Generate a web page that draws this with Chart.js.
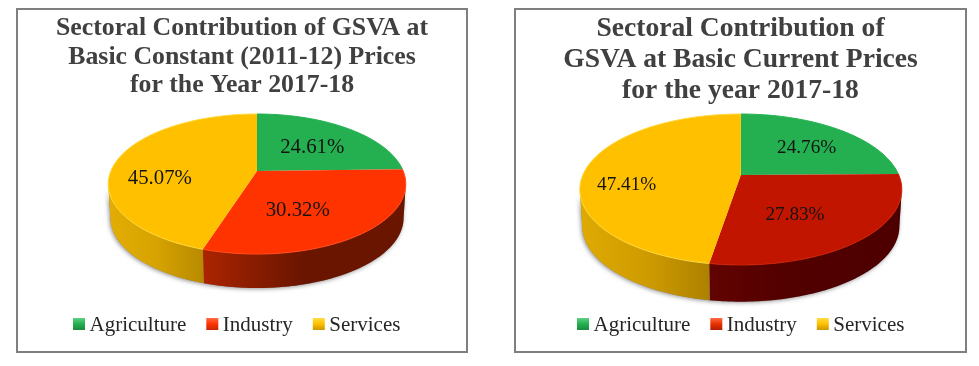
<!DOCTYPE html>
<html>
<head>
<meta charset="utf-8">
<script src="https://cdn.jsdelivr.net/npm/chart.js@4"></script>
<style>
html,body{margin:0;padding:0;background:#fff;width:979px;height:366px;overflow:hidden}
.frame{position:absolute;top:8px;box-sizing:border-box;border:2px solid #7f7f7f;background:#fff}
canvas{display:block;filter:blur(0.45px)}
</style>
</head>
<body>
<div class="frame" style="left:16px;width:452px;height:345px"><canvas id="constantChart" width="448" height="341"></canvas></div>
<div class="frame" style="left:514px;width:453px;height:345px"><canvas id="currentChart" width="449" height="341"></canvas></div>
<script>
const categories = ['Agriculture', 'Industry', 'Services'];
const constantShares = [24.61, 30.32, 45.07];
const currentShares = [24.76, 27.83, 47.41];
const constantTitle = ['Sectoral Contribution of GSVA at', 'Basic Constant (2011-12) Prices', 'for the Year 2017-18'];
const currentTitle = ['Sectoral Contribution of', 'GSVA at Basic Current Prices', 'for the year 2017-18'];

const SERIF = '"Liberation Serif","Times New Roman",serif';

function project(o, angle, r) {
  const ux = Math.cos(angle) * r, uy = Math.sin(angle) * r;
  const d = 1 - o.k * uy;
  return [o.ax + o.R * ux / d, o.ay + o.b * uy / d];
}
function rimPoints(start, end, o, xs, dy) {
  const pts = [], n = 90;
  for (let i = 0; i <= n; i++) {
    const a = start + (end - start) * i / n;
    const p = project(o, a, 1);
    pts.push([o.ax + (p[0] - o.ax) * xs, p[1] + dy]);
  }
  return pts;
}
function tracePoly(ctx, pts) {
  ctx.beginPath();
  pts.forEach((p, j) => j ? ctx.lineTo(p[0], p[1]) : ctx.moveTo(p[0], p[1]));
}
const pie3d = {
  id: 'pie3d',
  beforeDatasetsDraw(chart) {
    const o = chart.options.plugins.pie3d, ctx = chart.ctx;
    const arcs = chart.getDatasetMeta(0).data;
    // the front of the disc runs between the two widest points of its projected rim
    const frontStart = Math.asin(o.k), frontEnd = Math.PI - frontStart;
    ctx.save();
    // soft shadow under the whole front wall
    const whole = rimPoints(frontStart, frontEnd, o, 1, 0).concat(rimPoints(frontStart, frontEnd, o, o.baseScale, o.depth).reverse());
    tracePoly(ctx, whole);
    ctx.closePath();
    ctx.shadowColor = 'rgba(60,60,60,0.55)';
    ctx.shadowBlur = 4;
    ctx.shadowOffsetX = -1;
    ctx.shadowOffsetY = 1;
    ctx.fillStyle = '#888';
    ctx.fill();
    ctx.shadowColor = 'transparent';
    ctx.shadowBlur = 0;
    ctx.shadowOffsetX = 0;
    ctx.shadowOffsetY = 0;
    // side walls
    arcs.forEach((arc, i) => {
      const s = Math.max(arc.startAngle, frontStart), e = Math.min(arc.endAngle, frontEnd);
      if (e <= s) return;
      const top = rimPoints(s, e, o, 1, 0), bot = rimPoints(s, e, o, o.baseScale, o.depth).reverse();
      const xsAll = top.concat(bot).map(p => p[0]);
      const g = ctx.createLinearGradient(Math.min(...xsAll), 0, Math.max(...xsAll), 0);
      o.wallStops[i].forEach(st => g.addColorStop(st[0], st[1]));
      tracePoly(ctx, top.concat(bot));
      ctx.closePath();
      ctx.fillStyle = g;
      ctx.fill();
    });
    // top face
    arcs.forEach((arc, i) => {
      const rim = rimPoints(arc.startAngle, arc.endAngle, o, 1, 0);
      tracePoly(ctx, [[o.ax, o.ay]].concat(rim));
      ctx.closePath();
      ctx.fillStyle = chart.data.datasets[0].backgroundColor[i];
      ctx.fill();
      tracePoly(ctx, rim);
      ctx.strokeStyle = o.rimColors[i];
      ctx.lineWidth = 1;
      ctx.stroke();
    });
    // percentage labels
    ctx.font = o.labelFont;
    ctx.fillStyle = '#141414';
    ctx.textAlign = 'center';
    ctx.textBaseline = 'middle';
    arcs.forEach((arc, i) => {
      const p = project(o, (arc.startAngle + arc.endAngle) / 2, 0.6);
      const v = chart.data.datasets[0].data[i];
      ctx.fillText(v.toFixed(2) + '%', p[0] + o.labelNudge[i][0], p[1] + o.labelNudge[i][1]);
    });
    ctx.restore();
    return false;
  },
  afterDraw(chart) {
    const o = chart.options.plugins.pie3d, ctx = chart.ctx;
    ctx.save();
    ctx.font = '21px ' + SERIF;
    ctx.textAlign = 'left';
    ctx.textBaseline = 'alphabetic';
    let x = o.legendX;
    chart.data.labels.forEach((label, i) => {
      const y = o.legendY;
      const g = ctx.createLinearGradient(0, y - 6, 0, y + 6);
      o.legendStops[i].forEach(s => g.addColorStop(s[0], s[1]));
      ctx.fillStyle = g;
      ctx.fillRect(x, y - 6, 12, 12);
      ctx.fillStyle = '#262626';
      ctx.fillText(label, x + 16.5, y + 7);
      x += 16.5 + ctx.measureText(label).width + o.legendGap;
    });
    ctx.restore();
  }
};

const legendStops = [
  [[0, '#5fcf85'], [0.5, '#24b050'], [1, '#1c8a3e']],
  null,
  [[0, '#ffdd44'], [0.5, '#ffc000'], [1, '#c99700']]
];

function build(id, values, title, titleFont, lineHeight, titlePad, colors, extra) {
  return new Chart(document.getElementById(id), {
    type: 'pie',
    data: { labels: categories, datasets: [{ data: values, backgroundColor: colors, borderWidth: 0 }] },
    plugins: [pie3d],
    options: {
      responsive: false,
      animation: false,
      layout: { padding: { bottom: 40 } },
      plugins: {
        legend: { display: false },
        tooltip: { enabled: false },
        title: {
          display: true, text: title, color: '#404040',
          font: { family: SERIF, size: titleFont, weight: 'bold', lineHeight: lineHeight },
          padding: { top: titlePad, bottom: 6 }
        },
        pie3d: extra
      }
    }
  });
}

build('constantChart', constantShares, constantTitle, 25.8, 1.1, 4.5, ['#24b050', '#ff3300', '#ffc000'], {
  ax: 239, ay: 161, R: 146.2, b: 67.6, k: 0.186, depth: 34, baseScale: 0.985,
  labelFont: '20.8px ' + SERIF,
  labelNudge: [[-1.5, 3], [-17, 4], [-12, 14]],
  rimColors: ['#24b050', '#ff4a1a', '#ffd83a'],
  wallStops: [
    [[0, '#15702f'], [1, '#15702f']],
    [[0, '#ad2400'], [0.2, '#8f1e00'], [0.5, '#6a1500'], [1, '#6a1500']],
    [[0, '#e3ad04'], [0.5, '#d6a300'], [1, '#b88a00']]
  ],
  legendX: 55, legendY: 314, legendGap: 20,
  legendStops: [legendStops[0], [[0, '#ff6a44'], [0.5, '#ff3300'], [1, '#c42800']], legendStops[2]]
});

build('currentChart', currentShares, currentTitle, 27.6, 1.123, 3, ['#24b050', '#c21500', '#ffc000'], {
  ax: 224.8, ay: 165, R: 158, b: 72.7, k: 0.192, depth: 36.7, baseScale: 0.985,
  labelFont: '19.2px ' + SERIF,
  labelNudge: [[4.4, 1.4], [-13.6, 3.8], [-20.5, 13.5]],
  rimColors: ['#24b050', '#cc2000', '#ffd83a'],
  wallStops: [
    [[0, '#15702f'], [1, '#15702f']],
    [[0, '#620300'], [0.4, '#520000'], [1, '#4d0000']],
    [[0, '#dfaa02'], [0.5, '#cf9c00'], [1, '#ad8100']]
  ],
  legendX: 61, legendY: 314, legendGap: 20,
  legendStops: [legendStops[0], [[0, '#ff6a44'], [0.5, '#e83000'], [1, '#b02000']], legendStops[2]]
});
</script>
</body>
</html>
